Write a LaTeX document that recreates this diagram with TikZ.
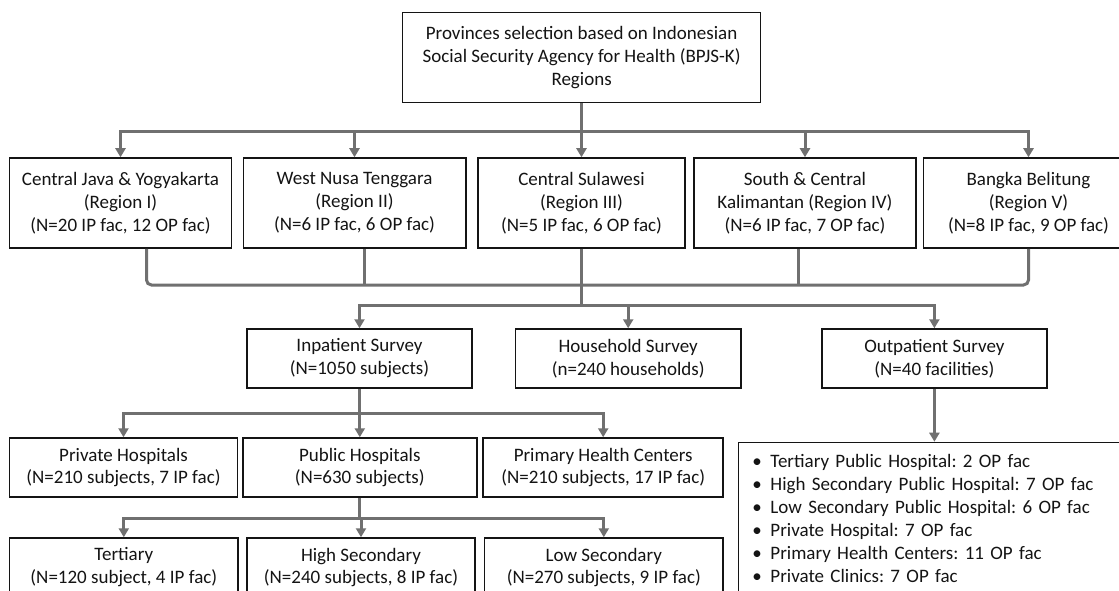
\documentclass[tikz,border=0pt]{standalone}
\usepackage{fontspec}
\setmainfont{Carlito}
\usetikzlibrary{arrows.meta}
\definecolor{conn}{RGB}{112,112,112}
\definecolor{ink}{RGB}{20,20,20}
\frenchspacing
\begin{document}
\begin{tikzpicture}[x=1pt,y=-1pt,
  box/.style={draw=ink,line width=1.5pt,align=center,inner sep=0pt,
    font=\fontsize{19}{22.9}\selectfont\frenchspacing,text=ink},
  ln/.style={draw=conn,line width=3pt},
  arr/.style={ln,-{Triangle[width=10pt,length=9pt]}}]
\useasboundingbox (0,0) rectangle (1119,591);
\clip (0,0) rectangle (1119,591);
\fill[white] (0,0) rectangle (1119,591);

% top
\node[box,minimum width=358pt,minimum height=90pt] (top) at (581.6,57.3)
  {Provinces selection based on Indonesian\\Social Security Agency for Health (BPJS-K)\\Regions};

% regions
\node[box,minimum width=221.8pt,minimum height=90pt] (r1) at (120.5,203)
  {Central Java \& Yogyakarta\\(Region I)\\(N=20 IP fac, 12 OP fac)};
\node[box,minimum width=222.5pt,minimum height=90pt] (r2) at (354.5,203)
  {West Nusa Tenggara\\(Region II)\\(N=6 IP fac, 6 OP fac)};
\node[box,minimum width=207pt,minimum height=90pt] (r3) at (581.5,203)
  {Central Sulawesi\\(Region III)\\(N=5 IP fac, 6 OP fac)};
\node[box,minimum width=222pt,minimum height=90pt] (r4) at (805,203)
  {South \& Central\\Kalimantan (Region IV)\\(N=6 IP fac, 7 OP fac)};
\node[box,minimum width=210pt,minimum height=90pt] (r5) at (1028.5,203)
  {Bangka Belitung\\(Region V)\\(N=8 IP fac, 9 OP fac)};

% surveys
\node[box,minimum width=225pt,minimum height=59pt] (inp) at (359.5,358.5)
  {Inpatient Survey\\(N=1050 subjects)};
\node[box,minimum width=225.6pt,minimum height=59pt] (hh) at (628.2,358.5)
  {Household Survey\\(n=240 households)};
\node[box,minimum width=225pt,minimum height=59pt] (op) at (934.4,358.5)
  {Outpatient Survey\\(N=40 facilities)};

% inpatient level
\node[box,minimum width=228pt,minimum height=59pt] (priv) at (123.5,467.5)
  {Private Hospitals\\(N=210 subjects, 7 IP fac)};
\node[box,minimum width=234pt,minimum height=59pt] (pub) at (359.8,467.5)
  {Public Hospitals\\(N=630 subjects)};
\node[box,minimum width=240pt,minimum height=59pt] (phc) at (603.2,467.5)
  {Primary Health Centers\\(N=210 subjects, 17 IP fac)};

% public level
\node[box,minimum width=228.4pt,minimum height=59pt] (ter) at (123.8,567.5)
  {Tertiary\\(N=120 subject, 4 IP fac)};
\node[box,minimum width=228pt,minimum height=59pt] (hs) at (361,567.5)
  {High Secondary\\(N=240 subjects, 8 IP fac)};
\node[box,minimum width=238.4pt,minimum height=59pt] (ls) at (603.8,567.5)
  {Low Secondary\\(N=270 subjects, 9 IP fac)};

% outpatient list
\node[box,anchor=north west,align=left,text width=384pt,inner xsep=14pt,inner ysep=12pt] (ob) at (737.7,441.7)
  {\makebox[18pt][l]{\textbullet}Tertiary Public Hospital: 2 OP fac\\
   \makebox[18pt][l]{\textbullet}High Secondary Public Hospital: 7 OP fac\\
   \makebox[18pt][l]{\textbullet}Low Secondary Public Hospital: 6 OP fac\\
   \makebox[18pt][l]{\textbullet}Private Hospital: 7 OP fac\\
   \makebox[18pt][l]{\textbullet}Primary Health Centers: 11 OP fac\\
   \makebox[18pt][l]{\textbullet}Private Clinics: 7 OP fac};

% connectors: top to regions
\foreach \r in {r1,r2,r3,r4,r5}
  \draw[arr] (top.south) -- ++(0,28) -| (\r.north);

% regions merge
\coordinate (m) at (581.5,285);
\coordinate (m2) at (581.5,305);
\draw[ln,rounded corners=5pt] ([xshift=26pt]r1.south) |- (m);
\draw[ln] ([xshift=9.8pt]r2.south) -- ([xshift=9.8pt]r2.south |- m);
\draw[ln] (r3.south) -- (m);
\draw[ln] ([xshift=-6.4pt]r4.south) -- ([xshift=-6.4pt]r4.south |- m);
\draw[ln,rounded corners=5pt] (r5.south) |- (m);
\draw[ln] (m) -- (m2);
\draw[arr] (m2) -| (inp.north);
\draw[arr] (m2) -| (hh.north);
\draw[arr] (m2) -| (op.north);

% inpatient to hospital types
\foreach \r in {priv,pub,phc}
  \draw[arr] (inp.south) -- ++(0,24.5) -| (\r.north);

% public to levels
\foreach \r in {ter,hs,ls}
  \draw[arr] (pub.south) -- ++(0,20.5) -| (\r.north);

% outpatient to list
\draw[arr] (op.south) -- (op.south |- ob.north);
\end{tikzpicture}
\end{document}
